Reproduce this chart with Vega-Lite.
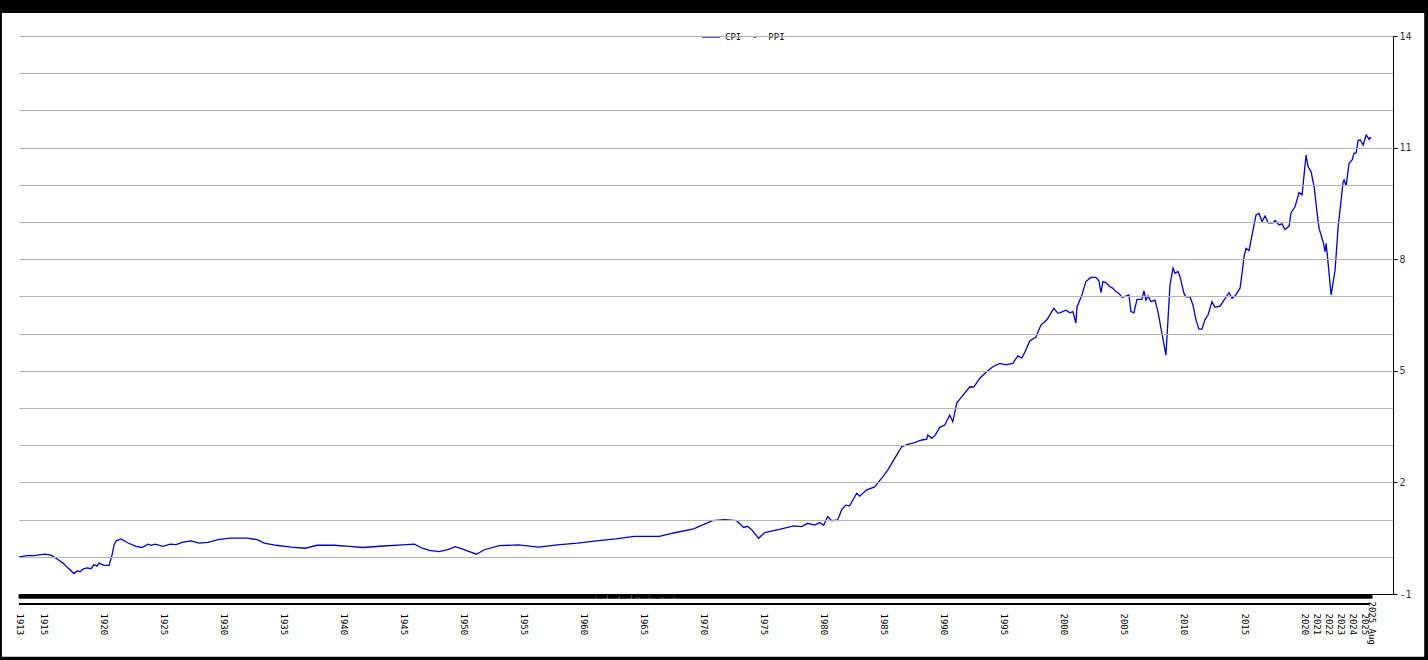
{
  "$schema": "https://vega.github.io/schema/vega-lite/v6.json",
  "width": 1374,
  "height": 558,
  "autosize": "none",
  "padding": {"left": 19, "top": 36, "right": 35, "bottom": 66},
  "background": "black",
  "config": {"view": {"stroke": null}, "font": "DejaVu Sans Mono"},
  "data": {"values": [
    {"d":"1913-01","v":0.00},{"d":"1913-11","v":0.04},{"d":"1914-04","v":0.03},{"d":"1914-09","v":0.05},{"d":"1915-03","v":0.07},{"d":"1915-09","v":0.045},{"d":"1916-02","v":-0.04},{"d":"1916-09","v":-0.17},{"d":"1917-02","v":-0.30},{"d":"1917-08","v":-0.45},{"d":"1917-11","v":-0.38},{"d":"1918-02","v":-0.40},{"d":"1918-05","v":-0.33},{"d":"1918-09","v":-0.30},{"d":"1919-01","v":-0.32},{"d":"1919-04","v":-0.21},{"d":"1919-07","v":-0.25},{"d":"1919-09","v":-0.17},{"d":"1920-02","v":-0.23},{"d":"1920-07","v":-0.23},{"d":"1920-10","v":0.05},{"d":"1920-12","v":0.32},{"d":"1921-02","v":0.43},{"d":"1921-07","v":0.48},{"d":"1922-02","v":0.37},{"d":"1922-10","v":0.28},{"d":"1923-04","v":0.25},{"d":"1923-10","v":0.34},{"d":"1924-01","v":0.31},{"d":"1924-05","v":0.34},{"d":"1925-01","v":0.28},{"d":"1925-08","v":0.34},{"d":"1926-02","v":0.33},{"d":"1926-08","v":0.39},{"d":"1927-05","v":0.43},{"d":"1928-01","v":0.37},{"d":"1928-10","v":0.39},{"d":"1929-08","v":0.46},{"d":"1930-08","v":0.50},{"d":"1932-01","v":0.50},{"d":"1932-11","v":0.46},{"d":"1933-06","v":0.37},{"d":"1934-06","v":0.31},{"d":"1935-09","v":0.26},{"d":"1936-11","v":0.23},{"d":"1937-11","v":0.31},{"d":"1939-04","v":0.31},{"d":"1940-07","v":0.28},{"d":"1941-09","v":0.25},{"d":"1943-05","v":0.29},{"d":"1944-12","v":0.32},{"d":"1945-12","v":0.34},{"d":"1946-08","v":0.23},{"d":"1947-03","v":0.17},{"d":"1948-01","v":0.14},{"d":"1948-10","v":0.20},{"d":"1949-05","v":0.27},{"d":"1950-01","v":0.20},{"d":"1950-07","v":0.14},{"d":"1951-02","v":0.07},{"d":"1951-10","v":0.19},{"d":"1953-01","v":0.30},{"d":"1954-08","v":0.32},{"d":"1956-04","v":0.26},{"d":"1957-11","v":0.32},{"d":"1959-07","v":0.37},{"d":"1961-02","v":0.43},{"d":"1962-09","v":0.48},{"d":"1964-04","v":0.55},{"d":"1966-05","v":0.55},{"d":"1967-07","v":0.64},{"d":"1969-03","v":0.75},{"d":"1970-10","v":0.97},{"d":"1971-10","v":1.00},{"d":"1972-10","v":0.97},{"d":"1973-05","v":0.79},{"d":"1973-09","v":0.82},{"d":"1974-01","v":0.73},{"d":"1974-08","v":0.50},{"d":"1975-02","v":0.65},{"d":"1975-10","v":0.70},
    {"d":"1976-08","v":0.76},{"d":"1977-07","v":0.83},{"d":"1978-03","v":0.81},{"d":"1978-09","v":0.90},{"d":"1979-04","v":0.85},{"d":"1979-09","v":0.92},{"d":"1980-01","v":0.85},{"d":"1980-05","v":1.08},{"d":"1980-09","v":0.97},{"d":"1981-03","v":0.99},{"d":"1981-07","v":1.26},{"d":"1981-11","v":1.39},{"d":"1982-03","v":1.37},{"d":"1982-10","v":1.71},{"d":"1983-01","v":1.63},{"d":"1983-08","v":1.80},{"d":"1984-04","v":1.88},{"d":"1984-07","v":1.98},{"d":"1984-12","v":2.15},{"d":"1985-05","v":2.33},{"d":"1985-10","v":2.56},{"d":"1986-02","v":2.74},{"d":"1986-07","v":2.96},{"d":"1987-01","v":3.02},{"d":"1987-08","v":3.07},{"d":"1988-03","v":3.14},{"d":"1988-08","v":3.16},{"d":"1988-09","v":3.27},{"d":"1989-01","v":3.19},{"d":"1989-04","v":3.25},{"d":"1989-09","v":3.48},{"d":"1990-02","v":3.54},{"d":"1990-07","v":3.81},{"d":"1990-10","v":3.63},{"d":"1991-02","v":4.14},{"d":"1991-07","v":4.30},{"d":"1992-03","v":4.57},{"d":"1992-07","v":4.56},{"d":"1993-01","v":4.80},{"d":"1993-08","v":4.98},{"d":"1994-02","v":5.11},{"d":"1994-09","v":5.20},{"d":"1995-03","v":5.16},{"d":"1995-10","v":5.20},{"d":"1996-03","v":5.40},{"d":"1996-07","v":5.34},{"d":"1996-11","v":5.56},{"d":"1997-03","v":5.81},{"d":"1997-09","v":5.90},{"d":"1998-02","v":6.23},{"d":"1998-08","v":6.37},{"d":"1999-03","v":6.68},{"d":"1999-07","v":6.55},{"d":"1999-09","v":6.56},
    {"d":"2000-03","v":6.63},{"d":"2000-07","v":6.56},{"d":"2000-10","v":6.59},{"d":"2001-01","v":6.28},{"d":"2001-02","v":6.71},{"d":"2001-07","v":7.04},{"d":"2001-11","v":7.40},{"d":"2002-04","v":7.51},{"d":"2002-09","v":7.51},{"d":"2002-12","v":7.42},{"d":"2003-02","v":7.10},{"d":"2003-04","v":7.40},{"d":"2003-07","v":7.37},{"d":"2003-11","v":7.26},{"d":"2004-02","v":7.22},{"d":"2004-05","v":7.13},{"d":"2004-08","v":7.08},{"d":"2004-11","v":6.98},{"d":"2005-03","v":7.01},{"d":"2005-06","v":7.04},{"d":"2005-08","v":6.59},{"d":"2005-11","v":6.56},{"d":"2006-02","v":6.92},{"d":"2006-07","v":6.92},{"d":"2006-09","v":7.15},{"d":"2006-11","v":6.90},{"d":"2007-01","v":7.01},{"d":"2007-04","v":6.86},{"d":"2007-08","v":6.90},{"d":"2007-11","v":6.59},{"d":"2008-02","v":6.14},{"d":"2008-07","v":5.42},{"d":"2008-09","v":6.37},{"d":"2008-11","v":7.31},{"d":"2009-02","v":7.76},{"d":"2009-04","v":7.62},{"d":"2009-07","v":7.67},{"d":"2009-09","v":7.53},{"d":"2010-01","v":7.08},{"d":"2010-03","v":6.99},{"d":"2010-07","v":6.99},{"d":"2010-10","v":6.77},{"d":"2011-01","v":6.37},{"d":"2011-04","v":6.12},{"d":"2011-07","v":6.12},{"d":"2011-10","v":6.37},{"d":"2012-01","v":6.50},{"d":"2012-05","v":6.86},{"d":"2012-08","v":6.71},{"d":"2013-01","v":6.74},{"d":"2013-05","v":6.90},{"d":"2013-10","v":7.10},{"d":"2014-01","v":6.95},{"d":"2014-04","v":7.01},{"d":"2014-09","v":7.22},{"d":"2014-11","v":7.62},{"d":"2015-01","v":8.07},{"d":"2015-03","v":8.29},{"d":"2015-06","v":8.23},{"d":"2015-09","v":8.65},{"d":"2016-01","v":9.19},{"d":"2016-04","v":9.23},{"d":"2016-07","v":9.01},{"d":"2016-10","v":9.16},{"d":"2017-01","v":8.98},{"d":"2017-06","v":8.98},{"d":"2017-08","v":9.04},{"d":"2017-12","v":8.92},{"d":"2018-03","v":8.95},{"d":"2018-06","v":8.80},{"d":"2018-10","v":8.89},{"d":"2018-12","v":9.25},{"d":"2019-04","v":9.41},{"d":"2019-08","v":9.79},{"d":"2019-11","v":9.73},{"d":"2020-03","v":10.80},{"d":"2020-05","v":10.49},{"d":"2020-08","v":10.35},{"d":"2020-11","v":9.95},{"d":"2021-02","v":9.23},{"d":"2021-04","v":8.83},{"d":"2021-08","v":8.47},{"d":"2021-10","v":8.20},{"d":"2021-11","v":8.43},{"d":"2022-01","v":7.89},{"d":"2022-04","v":7.04},{"d":"2022-08","v":7.71},{"d":"2022-11","v":8.87},{"d":"2023-02","v":9.59},{"d":"2023-04","v":10.08},{"d":"2023-05","v":10.13},{"d":"2023-07","v":9.97},{"d":"2023-10","v":10.58},{"d":"2024-01","v":10.67},{"d":"2024-03","v":10.85},{"d":"2024-05","v":10.85},{"d":"2024-07","v":11.19},{"d":"2024-09","v":11.21},{"d":"2024-12","v":11.07},{"d":"2025-03","v":11.34},{"d":"2025-04","v":11.31},{"d":"2025-06","v":11.22},{"d":"2025-07","v":11.27},{"d":"2025-08","v":11.25}
  ]},
  "layer": [
    {
      "data": {"values": [{}]},
      "mark": {"type": "rect", "fill": "white", "clip": false},
      "encoding": {
        "x": {"datum": {"year": 1911, "month": 8, "utc": true}, "type": "temporal"},
        "x2": {"datum": {"year": 2030, "month": 1, "utc": true}},
        "y": {"datum": -2.69, "type": "quantitative"},
        "y2": {"datum": 14.62}
      }
    },
    {
      "data": {"values": [{}]},
      "mark": {"type": "rule", "color": "black", "strokeWidth": 2, "clip": false},
      "encoding": {
        "x": {"datum": {"year": 1913, "month": 1, "utc": true}, "type": "temporal"},
        "x2": {"datum": {"year": 2025, "month": 6, "utc": true}},
        "y": {"datum": -1.269, "type": "quantitative"}
      }
    },
    {
      "mark": {"type": "line", "strokeWidth": 1.3, "interpolate": "linear"},
      "encoding": {
        "x": {
          "field": "d",
          "type": "temporal",
          "scale": {"type": "utc", "domain": [{"year": 1913, "month": 1, "date": 1, "utc": true}, {"year": 2027, "month": 5, "date": 28, "utc": true}], "nice": false},
          "axis": {
            "title": null,
            "zindex": 1,
            "grid": false,
            "domain": true,
            "domainColor": "black",
            "domainWidth": 1,
            "tickCount": {"interval": "month", "step": 1},
            "tickColor": "black",
            "tickSize": 4,
            "tickWidth": 2,
            "tickOpacity": {"condition": {"test": "datum.value > utc(2025,7,15)", "value": 0}, "value": 1},
            "labelAngle": 90,
            "labelAlign": "left",
            "labelBaseline": "middle",
            "labelPadding": {"condition": {"test": "utcyear(datum.value)==2025 && utcmonth(datum.value)==7", "value": 3}, "value": 15},
            "labelOverlap": false,
            "labelBound": false,
            "labelFlush": false,
            "labelFont": "DejaVu Sans Mono",
            "labelFontSize": 9,
            "labelColor": "black",
            "labelExpr": "utcyear(datum.value)==2025 && utcmonth(datum.value)==7 ? '2025 Aug' : (utcmonth(datum.value)==0 && utcyear(datum.value)<=2025 && (utcyear(datum.value)==1913 || utcyear(datum.value)>=2020 || utcyear(datum.value)%5==0) ? utcFormat(datum.value,'%Y') : '')"
          }
        },
        "y": {
          "field": "v",
          "type": "quantitative",
          "scale": {"domain": [-1, 14], "nice": false, "zero": false},
          "axis": {
            "title": null,
            "orient": "right",
            "zindex": 1,
            "values": [-1,0,1,2,3,4,5,6,7,8,9,10,11,12,13,14],
            "tickCount": 40,
            "grid": true,
            "gridColor": "#b4b4b4",
            "gridWidth": 1,
            "domainColor": "black",
            "tickColor": "black",
            "tickSize": 4,
            "tickOpacity": {"condition": {"test": "(datum.value + 1) % 3 == 0", "value": 1}, "value": 0},
            "labelExpr": "(datum.value + 1) % 3 == 0 ? ('' + datum.value) : ''",
            "labelOverlap": false,
            "labelFont": "DejaVu Sans Mono",
            "labelFontSize": 10,
            "labelColor": "#333333",
            "labelPadding": 2
          }
        },
        "color": {
          "datum": "CPI\u00a0\u00a0-\u00a0\u00a0PPI",
          "scale": {"range": ["#0000cc"]},
          "legend": {
            "title": null,
            "orient": "none",
            "legendX": 679,
            "legendY": -12,
            "fillColor": "white",
            "padding": 3,
            "symbolType": "stroke",
            "symbolSize": 324,
            "symbolStrokeWidth": 1.3,
            "labelFont": "DejaVu Sans Mono",
            "labelFontSize": 9,
            "labelColor": "black",
            "labelOffset": 4
          }
        }
      }
    }
  ]
}
